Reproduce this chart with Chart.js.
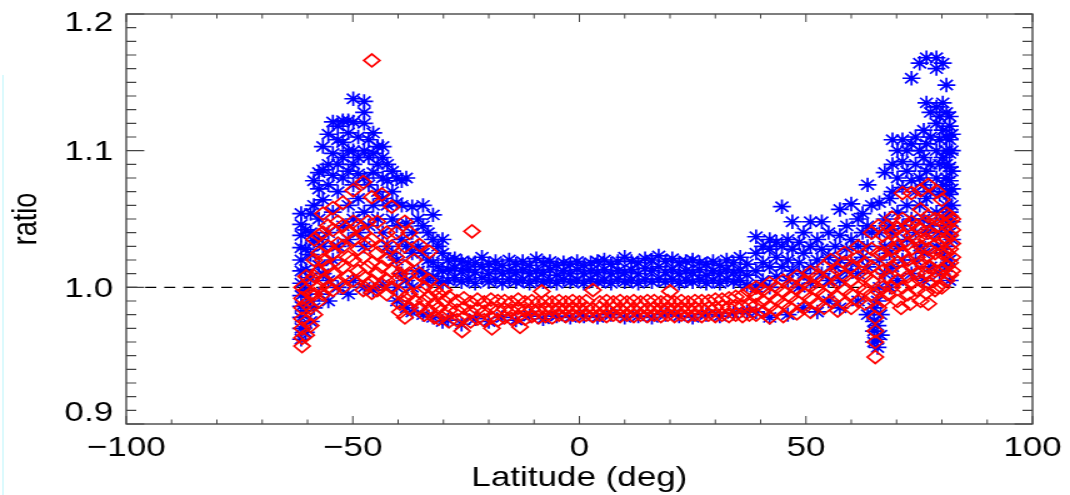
<!DOCTYPE html>
<html>
<head>
<meta charset="utf-8">
<title>ratio vs latitude</title>
<script src="https://cdn.jsdelivr.net/npm/chart.js@4.4.1/dist/chart.umd.min.js"></script>
<style>
  html, body { margin: 0; padding: 0; background: #fff; }
  #wrap { position: relative; width: 1070px; height: 495px; overflow: hidden; }
  #stretch { position: absolute; left: 0; top: 0; width: 856px; height: 495px; transform: scaleX(1.25); transform-origin: 0 0; }
  #c { display: block; }
  #edge { position: absolute; left: 2px; top: 75px; width: 2px; height: 420px; background: #dcfafd; }
</style>
</head>
<body>
<div id="wrap">
  <div id="edge"></div>
  <div id="stretch">
    <canvas id="c" width="856" height="495" style="width:856px;height:495px"></canvas>
  </div>
</div>
<script>
// Axis tick values and their printed labels
const xTickValues = [-100, -50, 0, 50, 100];
const xTickLabels = ['\u2212100', '\u221250', '0', '50', '100'];
const yTickValues = [0.9, 1.0, 1.1, 1.2];
const yTickLabels = ['0.9', '1.0', '1.1', '1.2'];
const xTitle = 'Latitude (deg)';
const yTitle = 'ratio';
const referenceLevel = 1.0;

// Blue series (asterisks): each entry is [latitude, [ratios at that latitude]]
const blueSouth = [
  [-61.4, [0.962, 0.970, 0.978, 0.986, 0.994, 1.003, 1.012, 1.020, 1.029, 1.038, 1.046, 1.054]],
  [-60.4, [0.967, 0.983, 0.998, 1.013, 1.028, 1.042]],
  [-59.3, [0.975, 0.990, 1.007, 1.024, 1.040, 1.054]],
  [-58.6, [0.985, 1.034, 1.060, 1.078]],
  [-57.5, [0.995, 1.016, 1.035, 1.050, 1.072, 1.084]],
  [-56.6, [1.010, 1.030, 1.064, 1.086, 1.103]],
  [-55.4, [0.990, 1.005, 1.040, 1.075, 1.090, 1.112]],
  [-54.4, [1.020, 1.055, 1.082, 1.098, 1.121]],
  [-53.3, [1.000, 1.030, 1.070, 1.090, 1.108, 1.118]],
  [-52.2, [1.045, 1.080, 1.095, 1.106, 1.122]],
  [-51.0, [0.995, 1.035, 1.060, 1.085, 1.100, 1.113, 1.122]],
  [-49.9, [1.005, 1.050, 1.075, 1.090, 1.100, 1.121, 1.138]],
  [-48.8, [1.040, 1.065, 1.083, 1.095, 1.110]],
  [-47.5, [1.000, 1.030, 1.055, 1.080, 1.100, 1.120, 1.128, 1.136]],
  [-46.5, [1.045, 1.075, 1.095, 1.108]],
  [-45.5, [0.998, 1.060, 1.084, 1.098, 1.113]],
  [-44.5, [1.050, 1.070, 1.090, 1.103]],
  [-43.4, [1.002, 1.040, 1.065, 1.080, 1.095, 1.103]],
  [-42.4, [1.030, 1.060, 1.078, 1.090]],
  [-41.3, [1.025, 1.050, 1.070, 1.085]],
  [-40.3, [0.990, 1.000, 1.020, 1.045, 1.062, 1.080]],
  [-39.2, [1.010, 1.035, 1.060, 1.078]],
  [-38.2, [0.985, 1.005, 1.030, 1.047, 1.080]],
  [-36.9, [0.982, 1.000, 1.025, 1.040, 1.059]],
  [-35.6, [1.012, 1.030, 1.050]],
  [-34.5, [0.980, 1.010, 1.025, 1.045, 1.060]],
  [-33.4, [1.005, 1.020, 1.040]],
  [-32.3, [0.978, 1.008, 1.018, 1.035, 1.053]],
  [-31.2, [1.005, 1.015, 1.030]],
  [-30.2, [0.975, 1.003, 1.012, 1.025, 1.035]]
];

const blueEquator = [
  [-29.0, [0.976, 1.005, 1.013, 1.020]],
  [-27.5, [1.007, 1.014, 1.021]],
  [-26.0, [0.973, 1.004, 1.012, 1.019]],
  [-24.5, [1.006, 1.013, 1.018]],
  [-23.0, [0.977, 1.003, 1.011, 1.018]],
  [-21.5, [1.007, 1.015, 1.022]],
  [-20.0, [0.975, 1.004, 1.010, 1.017]],
  [-18.5, [1.006, 1.013, 1.019]],
  [-17.0, [0.978, 1.003, 1.010, 1.016]],
  [-15.5, [1.006, 1.012, 1.020]],
  [-14.0, [0.976, 1.004, 1.011, 1.017]],
  [-12.5, [1.005, 1.013, 1.019]],
  [-11.0, [0.979, 1.003, 1.010, 1.016]],
  [-9.5, [1.006, 1.012, 1.021]],
  [-8.0, [0.977, 1.004, 1.011, 1.018]],
  [-6.5, [1.005, 1.013, 1.019]],
  [-5.0, [0.979, 1.003, 1.009, 1.016]],
  [-3.5, [1.006, 1.012, 1.018]],
  [-2.0, [0.978, 1.004, 1.010, 1.017]],
  [-0.5, [1.005, 1.013, 1.019]],
  [1.0, [0.979, 1.003, 1.010, 1.016]],
  [2.5, [1.006, 1.012, 1.018]],
  [4.0, [0.978, 1.004, 1.011, 1.019]],
  [5.5, [1.005, 1.013, 1.020]],
  [7.0, [0.980, 1.003, 1.010, 1.017]],
  [8.5, [1.006, 1.012, 1.019]],
  [10.0, [0.978, 1.004, 1.011, 1.022]],
  [11.5, [1.005, 1.013, 1.019]],
  [13.0, [0.979, 1.003, 1.010, 1.018]],
  [14.5, [1.006, 1.014, 1.021]],
  [16.0, [0.978, 1.004, 1.012, 1.020]],
  [17.5, [1.006, 1.015, 1.023]],
  [19.0, [0.980, 1.004, 1.011, 1.019]],
  [20.5, [1.006, 1.013, 1.021]],
  [22.0, [0.979, 1.003, 1.010, 1.018]],
  [23.5, [1.005, 1.012, 1.019]],
  [25.0, [0.978, 1.004, 1.011, 1.020]],
  [26.5, [1.006, 1.013, 1.018]],
  [28.0, [0.980, 1.003, 1.009, 1.017]],
  [29.5, [1.005, 1.012, 1.019]],
  [31.0, [0.979, 1.003, 1.010, 1.016]],
  [32.5, [1.006, 1.013, 1.020]],
  [34.0, [0.981, 1.004, 1.011, 1.018]],
  [35.5, [1.005, 1.012, 1.022]],
  [37.0, [0.982, 1.002, 1.009, 1.017]]
];

const blueMidNorth = [
  [39.0, [0.982, 1.000, 1.012, 1.025, 1.037]],
  [40.5, [1.005, 1.018, 1.030]],
  [42.0, [0.978, 1.000, 1.015, 1.028, 1.035]],
  [43.5, [1.008, 1.022, 1.033]],
  [44.7, [1.015, 1.030, 1.059]],
  [46.0, [0.980, 1.005, 1.020, 1.035]],
  [47.0, [1.012, 1.028, 1.048]],
  [48.5, [1.000, 1.018, 1.033]],
  [49.5, [0.985, 1.010, 1.025, 1.040]],
  [51.0, [1.003, 1.015, 1.030, 1.048]],
  [52.5, [0.982, 1.020, 1.035]],
  [53.5, [1.010, 1.028, 1.048]],
  [55.0, [0.990, 1.005, 1.022, 1.040]],
  [56.5, [1.015, 1.030]],
  [57.5, [0.985, 1.005, 1.020, 1.038, 1.057]],
  [59.0, [1.012, 1.028, 1.045]],
  [60.0, [1.018, 1.035, 1.061]],
  [61.5, [0.990, 1.010, 1.030, 1.050]],
  [62.5, [1.022, 1.040, 1.054]],
  [63.6, [0.980, 1.015, 1.030, 1.045, 1.075]],
  [64.5, [1.040, 1.060]],
  [65.0, [0.960, 0.968, 0.975, 0.985]],
  [65.8, [0.956, 0.962, 0.972, 0.990]],
  [66.5, [0.965, 0.980]]
];

const blueNorth = [
  [66.2, [1.000, 1.020, 1.040, 1.062]],
  [67.4, [1.010, 1.030, 1.050, 1.084]],
  [68.5, [1.000, 1.025, 1.045, 1.065]],
  [69.1, [1.015, 1.040, 1.070, 1.090, 1.108]],
  [70.2, [1.005, 1.030, 1.055, 1.080, 1.100]],
  [71.3, [1.020, 1.045, 1.073, 1.092, 1.108]],
  [72.3, [1.035, 1.060, 1.085, 1.100]],
  [73.3, [1.010, 1.050, 1.078, 1.105, 1.153]],
  [74.2, [1.020, 1.040, 1.070, 1.090, 1.110]],
  [75.1, [1.030, 1.060, 1.080, 1.100, 1.164]],
  [76.0, [1.005, 1.025, 1.050, 1.075, 1.095, 1.115]],
  [76.6, [1.040, 1.065, 1.085, 1.105, 1.135, 1.168]],
  [77.5, [1.015, 1.045, 1.070, 1.090, 1.110, 1.128]],
  [78.8, [1.030, 1.055, 1.080, 1.100, 1.120, 1.132, 1.160, 1.168]],
  [79.5, [1.010, 1.040, 1.068, 1.090, 1.108, 1.125]],
  [80.2, [1.025, 1.050, 1.075, 1.095, 1.115, 1.135, 1.164]],
  [81.0, [1.015, 1.030, 1.045, 1.060, 1.070, 1.080, 1.090, 1.100, 1.110, 1.128, 1.148]],
  [81.7, [1.005, 1.020, 1.040, 1.055, 1.068, 1.078, 1.088, 1.098, 1.108, 1.118, 1.125]],
  [82.2, [1.035, 1.048, 1.060, 1.072, 1.085, 1.100, 1.112]]
];

// Red series (diamonds): each entry is [latitude, [ratios at that latitude]]
const redSouth = [
  [-61.2, [0.957, 0.963, 0.970, 0.977, 0.985, 0.992, 1.000]],
  [-60.3, [0.965, 0.975, 0.988, 0.998, 1.008]],
  [-59.3, [0.972, 0.985, 0.995, 1.005]],
  [-58.5, [0.980, 0.995, 1.008, 1.020, 1.035]],
  [-57.5, [0.990, 1.000, 1.012, 1.025, 1.038]],
  [-56.6, [0.995, 1.005, 1.020, 1.040, 1.054]],
  [-55.5, [1.000, 1.015, 1.030, 1.045]],
  [-54.4, [0.998, 1.010, 1.025, 1.042, 1.058]],
  [-53.3, [1.003, 1.018, 1.032, 1.048]],
  [-52.2, [1.000, 1.015, 1.030, 1.045, 1.062]],
  [-51.0, [1.008, 1.022, 1.040]],
  [-49.9, [1.005, 1.020, 1.035, 1.048, 1.071]],
  [-48.8, [1.012, 1.028, 1.045]],
  [-47.7, [0.998, 1.008, 1.022, 1.040, 1.077]],
  [-46.7, [1.002, 1.015, 1.032, 1.048]],
  [-45.8, [0.996, 1.005, 1.018, 1.035, 1.066, 1.166]],
  [-44.6, [0.998, 1.010, 1.025, 1.048]],
  [-43.6, [1.002, 1.015, 1.030, 1.068]],
  [-42.5, [0.995, 1.005, 1.020, 1.040]],
  [-41.4, [1.000, 1.012, 1.030, 1.059]],
  [-40.4, [1.005, 1.022, 1.040]],
  [-39.6, [0.982, 0.988, 0.996, 1.010]],
  [-38.5, [0.978, 0.992, 1.015, 1.030, 1.048]],
  [-37.5, [0.985, 0.995, 1.010, 1.040]],
  [-36.4, [0.990, 1.003, 1.020]],
  [-35.3, [0.985, 0.997, 1.010, 1.031]],
  [-34.2, [0.980, 0.990, 1.000]],
  [-33.1, [0.983, 0.993, 1.005, 1.026]],
  [-32.0, [0.978, 0.988, 0.998]],
  [-31.0, [0.977, 0.985, 0.995]],
  [-29.9, [0.980, 0.990, 0.998]],
  [-28.8, [0.975, 0.983, 0.993]]
];

const redEquator = [
  [-27.0, [0.976, 0.983, 0.990]],
  [-25.9, [0.968]],
  [-25.5, [0.978, 0.985, 0.992]],
  [-24.0, [0.975, 0.982, 0.989]],
  [-23.7, [1.041]],
  [-22.5, [0.977, 0.984, 0.991]],
  [-21.0, [0.976, 0.982, 0.989]],
  [-19.5, [0.978, 0.985, 0.991]],
  [-19.3, [0.970]],
  [-18.0, [0.976, 0.983, 0.990]],
  [-16.5, [0.978, 0.984, 0.990]],
  [-15.0, [0.977, 0.983, 0.989]],
  [-13.5, [0.979, 0.985, 0.991]],
  [-13.1, [0.971]],
  [-12.0, [0.977, 0.983, 0.989]],
  [-10.5, [0.979, 0.984, 0.990]],
  [-9.0, [0.978, 0.983, 0.989]],
  [-8.3, [0.997]],
  [-7.5, [0.979, 0.985, 0.990]],
  [-6.0, [0.978, 0.984, 0.989]],
  [-4.5, [0.980, 0.985, 0.990]],
  [-3.0, [0.979, 0.984, 0.989]],
  [-1.5, [0.980, 0.985, 0.990]],
  [0.0, [0.979, 0.984, 0.989]],
  [1.5, [0.980, 0.985, 0.990]],
  [3.0, [0.979, 0.984, 0.998]],
  [4.5, [0.980, 0.985, 0.989]],
  [6.0, [0.979, 0.984, 0.990]],
  [7.5, [0.980, 0.985, 0.989]],
  [9.0, [0.979, 0.984, 0.990]],
  [10.5, [0.980, 0.985, 0.989]],
  [12.0, [0.979, 0.984, 0.990]],
  [13.5, [0.980, 0.985, 0.989]],
  [15.0, [0.979, 0.984, 0.990]],
  [16.5, [0.980, 0.985, 0.990]],
  [18.0, [0.979, 0.984, 0.989]],
  [19.5, [0.980, 0.985, 0.990]],
  [20.0, [0.997]],
  [21.0, [0.979, 0.984, 0.989]],
  [22.5, [0.980, 0.985, 0.990]],
  [24.0, [0.979, 0.984, 0.989]],
  [25.5, [0.980, 0.985, 0.990]],
  [27.0, [0.979, 0.984, 0.990]],
  [28.5, [0.980, 0.985, 0.990]],
  [30.0, [0.979, 0.985, 0.991]],
  [31.5, [0.980, 0.986, 0.991]],
  [33.0, [0.979, 0.985, 0.992]],
  [34.5, [0.980, 0.986, 0.993]],
  [36.0, [0.979, 0.986, 0.994]],
  [37.5, [0.980, 0.987, 0.997]]
];

const redMidNorth = [
  [39.0, [0.980, 0.987, 0.994, 1.000]],
  [40.5, [0.982, 0.990, 0.998]],
  [42.0, [0.978, 0.986, 0.995, 1.003]],
  [43.5, [0.983, 0.991, 1.000]],
  [45.0, [0.979, 0.988, 0.997, 1.005]],
  [46.5, [0.985, 0.993, 1.002]],
  [48.0, [0.981, 0.990, 0.999, 1.008]],
  [49.5, [0.985, 0.995, 1.004]],
  [51.0, [0.982, 0.992, 1.001, 1.011]],
  [52.5, [0.988, 0.998, 1.008]],
  [54.0, [0.985, 0.995, 1.005, 1.015]],
  [55.5, [0.990, 1.000, 1.010, 1.020]],
  [57.0, [0.983, 0.993, 1.003, 1.013]],
  [58.5, [0.988, 0.998, 1.008, 1.018, 1.025]],
  [60.0, [0.985, 0.995, 1.005, 1.015]],
  [61.5, [0.990, 1.000, 1.010, 1.022, 1.030]],
  [63.0, [0.988, 0.998, 1.008, 1.018]],
  [64.5, [0.995, 1.005, 1.015, 1.028, 1.040]],
  [65.3, [0.949, 0.960, 0.968, 0.978]],
  [66.0, [0.985, 0.997, 1.010, 1.025, 1.045]]
];

const redNorth = [
  [67.0, [0.990, 1.000, 1.012, 1.025, 1.038]],
  [68.0, [0.995, 1.008, 1.020, 1.032, 1.045]],
  [69.0, [1.000, 1.015, 1.028, 1.040, 1.051]],
  [70.2, [0.990, 1.005, 1.018, 1.030, 1.043]],
  [71.0, [0.985]],
  [71.3, [1.000, 1.012, 1.025, 1.038, 1.050, 1.069]],
  [72.5, [0.995, 1.008, 1.020, 1.032, 1.045]],
  [73.0, [0.988]],
  [73.3, [1.003, 1.015, 1.028, 1.038, 1.048, 1.069]],
  [74.5, [0.998, 1.010, 1.022, 1.035, 1.045]],
  [75.3, [0.990, 1.005, 1.018, 1.030, 1.042, 1.057, 1.071]],
  [76.5, [0.996, 1.010, 1.022, 1.035, 1.048]],
  [77.0, [0.988, 1.003, 1.015, 1.028, 1.040, 1.052, 1.075]],
  [78.5, [0.998, 1.012, 1.025, 1.038, 1.050]],
  [79.0, [1.000, 1.008, 1.020, 1.032, 1.045, 1.070]],
  [80.0, [1.000, 1.012, 1.025, 1.035, 1.048, 1.064]],
  [81.0, [1.005, 1.015, 1.025, 1.035, 1.045, 1.054]],
  [81.8, [1.009, 1.018, 1.028, 1.038, 1.048, 1.052]],
  [82.3, [1.012, 1.022, 1.032, 1.042, 1.050]]
];

// Expand [latitude, [ratios]] columns into {x, y} points
function toPoints(...groups) {
  const pts = [];
  groups.forEach(group => group.forEach(([lat, ratios]) => {
    ratios.forEach(r => pts.push({ x: lat, y: r }));
  }));
  return pts;
}

const bluePoints = toPoints(blueSouth, blueEquator, blueMidNorth, blueNorth);
const redPoints = toPoints(redSouth, redEquator, redMidNorth, redNorth);

const FONT = '"Liberation Sans", Arial, Helvetica, sans-serif';

// Box frame with inward ticks on all four sides, labels, titles, reference line
const framePlugin = {
  id: 'frame',
  beforeDatasetsDraw(chart) {
    const { ctx, chartArea: a, scales: { y } } = chart;
    const py = y.getPixelForValue(referenceLevel);
    ctx.save();
    ctx.strokeStyle = '#000';
    ctx.lineWidth = 1.1;
    ctx.setLineDash([8.8, 6.4]);
    ctx.beginPath();
    ctx.moveTo(a.left, py);
    ctx.lineTo(a.right, py);
    ctx.stroke();
    ctx.restore();
  },
  afterDraw(chart) {
    const { ctx, chartArea: a, scales: { x, y } } = chart;
    ctx.save();
    ctx.strokeStyle = '#3a3a3a';
    ctx.lineWidth = 1.3;
    ctx.strokeRect(a.left, a.top, a.right - a.left, a.bottom - a.top);

    // x ticks every 10 degrees, long ones at labelled values
    ctx.lineWidth = 1.0;
    ctx.strokeStyle = '#444';
    for (let i = 0; i <= 20; i++) {
      const v = x.min + i * 10;
      const px = x.getPixelForValue(v);
      const len = xTickValues.includes(v) ? 8 : 4.5;
      ctx.beginPath();
      ctx.moveTo(px, a.bottom); ctx.lineTo(px, a.bottom - len);
      ctx.moveTo(px, a.top); ctx.lineTo(px, a.top + len);
      ctx.stroke();
    }
    // y ticks every 0.01, long ones at labelled values
    ctx.lineWidth = 1.2;
    for (let i = 0; i <= 30; i++) {
      const v = Math.round((y.min + i * 0.01) * 1000) / 1000;
      const py = y.getPixelForValue(v);
      const major = yTickValues.some(t => Math.abs(t - v) < 1e-6);
      const len = major ? 14.4 : 8;
      ctx.beginPath();
      ctx.moveTo(a.left, py); ctx.lineTo(a.left + len, py);
      ctx.moveTo(a.right, py); ctx.lineTo(a.right - len, py);
      ctx.stroke();
    }

    ctx.fillStyle = '#000';
    ctx.font = '28px ' + FONT;
    ctx.textAlign = 'center';
    ctx.textBaseline = 'middle';
    xTickValues.forEach((v, i) => {
      ctx.fillText(xTickLabels[i], x.getPixelForValue(v), a.bottom + 24);
    });

    ctx.textAlign = 'right';
    yTickValues.forEach((v, i) => {
      const py = y.getPixelForValue(v) + 1.5;
      const cy = Math.min(Math.max(py, a.top + 9), a.bottom - 11);
      ctx.fillText(yTickLabels[i], a.left - 10.5, cy);
    });

    ctx.textAlign = 'center';
    ctx.font = '28px ' + FONT;
    ctx.fillText(xTitle, (a.left + a.right) / 2, 478);

    ctx.font = '27px ' + FONT;
    ctx.translate(22, 219);
    ctx.rotate(-Math.PI / 2);
    ctx.fillText(yTitle, 0, 0);
    ctx.restore();
  }
};

new Chart(document.getElementById('c'), {
  type: 'scatter',
  data: {
    datasets: [
      {
        label: 'red',
        data: redPoints,
        order: 1,
        pointStyle: 'rectRot',
        pointRadius: 6.4,
        pointBorderColor: '#ff0000',
        pointBackgroundColor: 'rgba(0,0,0,0)',
        pointBorderWidth: 1.7
      },
      {
        label: 'blue',
        data: bluePoints,
        order: 2,
        pointStyle: 'star',
        pointRadius: 7.2,
        pointBorderColor: '#0000ff',
        pointBackgroundColor: 'rgba(0,0,0,0)',
        pointBorderWidth: 1.7
      }
    ]
  },
  options: {
    responsive: false,
    animation: false,
    devicePixelRatio: 1,
    events: [],
    layout: { padding: { left: 0, right: 30, top: 14, bottom: 0 } },
    plugins: { legend: { display: false }, tooltip: { enabled: false } },
    scales: {
      x: {
        type: 'linear', min: -100, max: 100,
        ticks: { display: false, stepSize: 50 },
        grid: { display: false }, border: { display: false },
        afterFit(scale) { scale.height = 71; }
      },
      y: {
        type: 'linear', min: 0.9, max: 1.2,
        ticks: { display: false, stepSize: 0.1 },
        grid: { display: false }, border: { display: false },
        afterFit(scale) { scale.width = 101; }
      }
    }
  },
  plugins: [framePlugin]
});
</script>
</body>
</html>
